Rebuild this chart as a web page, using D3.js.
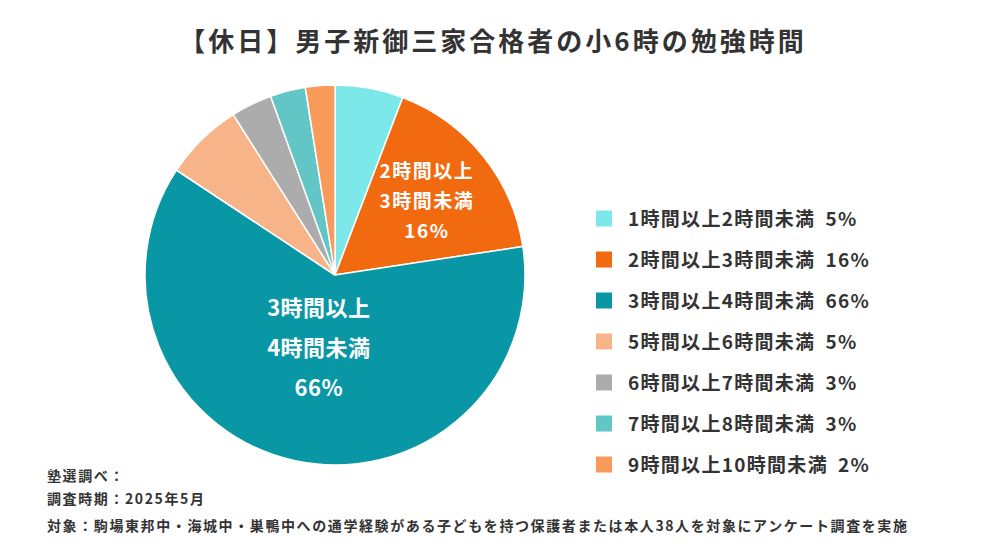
<!DOCTYPE html>
<html><head><meta charset="utf-8">
<script src="https://cdn.jsdelivr.net/npm/d3@7"></script>
<style>body{margin:0;background:#fff;font-family:"Noto Sans CJK JP","Noto Sans",sans-serif;}</style>
</head><body>
<svg id="chart" width="986" height="554"></svg>
<script>
// Slice shares, legend labels as printed
const categories = ["1時間以上2時間未満", "2時間以上3時間未満", "3時間以上4時間未満", "5時間以上6時間未満", "6時間以上7時間未満", "7時間以上8時間未満", "9時間以上10時間未満"];
const shares = [5.8, 16.8, 61.7, 6.7, 3.5, 3.0, 2.5];
const percentLabels = ["5%", "16%", "66%", "5%", "3%", "3%", "2%"];
const colors = ["#7de8ea", "#f26a10", "#0a97a5", "#f7b489", "#acacac", "#62c6c6", "#f89a5a"];
const notes = ["塾選調べ：", "調査時期：2025年5月", "対象：駒場東邦中・海城中・巣鴨中への通学経験がある子どもを持つ保護者または本人38人を対象にアンケート調査を実施"];

const svg = d3.select("#chart");
const cx = 335, cy = 275, r = 190;

svg.append("text").attr("x", 493).attr("y", 51).attr("text-anchor", "middle")
  .attr("font-size", 26).attr("letter-spacing", 3).attr("font-weight", "bold").attr("fill", "#333")
  .text("【休日】男子新御三家合格者の小6時の勉強時間");

const pie = d3.pie().sort(null).value(d => d);
const arc = d3.arc().innerRadius(0).outerRadius(r);
const g = svg.append("g").attr("transform", `translate(${cx},${cy})`);
const arcs = pie(shares);
g.selectAll("path").data(arcs).enter().append("path")
  .attr("d", arc).attr("fill", (d, i) => colors[i]).attr("stroke", "#fff").attr("stroke-width", 1.5);

// In-slice labels for the two largest slices
function sliceLabel(i, rad, size, gap, ls) {
  const c = d3.arc().innerRadius(rad).outerRadius(rad).centroid(arcs[i]);
  const lines = [categories[i].slice(0, 5), categories[i].slice(5), percentLabels[i]];
  const t = g.append("text").attr("text-anchor", "middle").attr("fill", "#fff")
    .attr("font-weight", "bold").attr("font-size", size).attr("letter-spacing", ls);
  lines.forEach((l, k) => t.append("tspan").attr("x", c[0]).attr("y", c[1] + (k - 1) * gap + size * 0.35).text(l));
}
sliceLabel(1, 118, 19, 30, 1.5);
sliceLabel(2, 75, 22, 40, 0.5);

const legend = svg.append("g");
const ly = d3.scaleBand().domain(categories).range([198, 485]);
categories.forEach((c, i) => {
  const y = ly(c) + ly.bandwidth() / 2;
  legend.append("rect").attr("x", 596).attr("y", y - 8).attr("width", 16).attr("height", 16).attr("fill", colors[i]);
  const t = legend.append("text").attr("x", 628).attr("y", y + 7).attr("font-size", 19)
    .attr("letter-spacing", 1.3).attr("font-weight", "bold").attr("fill", "#333");
  t.append("tspan").text(c);
  t.append("tspan").attr("dx", 10).text(percentLabels[i]);
});

notes.forEach((n, i) => {
  svg.append("text").attr("x", 47).attr("y", [481, 504, 531][i]).attr("font-size", 14)
    .attr("letter-spacing", 1.6).attr("font-weight", "bold").attr("fill", "#333").text(n);
});
</script>
</body></html>
